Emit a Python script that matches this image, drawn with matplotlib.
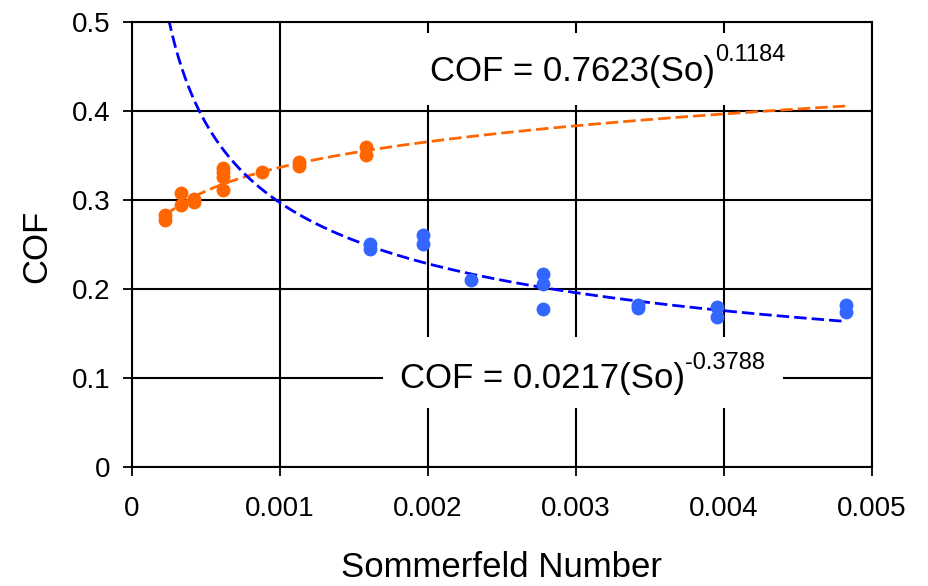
import numpy as np
import matplotlib
matplotlib.use("Agg")
import matplotlib.pyplot as plt
from matplotlib.patches import Rectangle

plt.rcParams["font.family"] = ["Liberation Sans", "DejaVu Sans"]

# Measured friction coefficients vs Sommerfeld number
orange_x = [0.000225, 0.000225, 0.000331, 0.000331, 0.000423, 0.000423,
            0.000619, 0.000619, 0.000619, 0.000619, 0.000883, 0.00113,
            0.00113, 0.001583, 0.001583]
orange_y = [0.283, 0.278, 0.3075, 0.294, 0.301, 0.298,
            0.336, 0.331, 0.326, 0.311, 0.331, 0.342,
            0.338, 0.359, 0.350]

blue_x = [0.00161, 0.00161, 0.00197, 0.00197, 0.00229, 0.00278, 0.00278,
          0.00278, 0.003423, 0.003423, 0.003953, 0.003953, 0.004827, 0.004827]
blue_y = [0.250, 0.245, 0.261, 0.251, 0.210, 0.217, 0.206,
          0.178, 0.182, 0.179, 0.1796, 0.169, 0.182, 0.1746]

# Power-law trend lines: COF = a * So^b
orange_a, orange_b = 0.7623, 0.1184
blue_a, blue_b = 0.0217, -0.3788

x_ticks = [0, 0.001, 0.002, 0.003, 0.004, 0.005]
x_ticklabels = ["0", "0.001", "0.002", "0.003", "0.004", "0.005"]
y_ticks = [0, 0.1, 0.2, 0.3, 0.4, 0.5]
y_ticklabels = ["0", "0.1", "0.2", "0.3", "0.4", "0.5"]

ORANGE = "#FF6600"
BLUE_PT = "#3366FF"
BLUE_LN = "#0000FF"

fig = plt.figure(figsize=(9.29, 5.86), dpi=100)
ax = fig.add_axes([0.1418, 0.2026, 0.7965, 0.7604])
ax.set_xlim(0, 0.005)
ax.set_ylim(0, 0.5)

ax.set_xticks(x_ticks)
ax.set_xticklabels(x_ticklabels)
ax.set_yticks(y_ticks)
ax.set_yticklabels(y_ticklabels)

ax.set_axisbelow(True)
ax.grid(True, color="black", linewidth=1.5)
for sp in ax.spines.values():
    sp.set_color("black")
    sp.set_linewidth(1.5)
ax.tick_params(direction="out", length=6.5, width=1.3, labelsize=20, colors="black")
ax.tick_params(axis="x", pad=14)
ax.tick_params(axis="y", pad=9)

# white panels behind the equations
ax.add_patch(Rectangle((0.3396, 0.814), 0.615, 0.1606, transform=ax.transAxes,
                       facecolor="white", edgecolor="none", zorder=1.5))
ax.add_patch(Rectangle((0.3396, 0.133), 0.5404, 0.1594, transform=ax.transAxes,
                       facecolor="white", edgecolor="none", zorder=1.5))

# trend lines
x_fit = np.linspace(min(orange_x), max(blue_x), 400)
ax.plot(x_fit, orange_a * x_fit ** orange_b, color=ORANGE, lw=2.0,
        dashes=(4.5, 1.8), zorder=2)
ax.plot(x_fit, blue_a * x_fit ** blue_b, color=BLUE_LN, lw=2.0,
        dashes=(4.5, 1.8), zorder=2)

# data points
ax.plot(orange_x, orange_y, "o", color=ORANGE, ms=10, mec="none", zorder=3)
ax.plot(blue_x, blue_y, "o", color=BLUE_PT, ms=10, mec="none", zorder=3)

# equations
t1 = ax.text(0.4031, 0.8676, "COF = 0.7623(So)", transform=ax.transAxes,
             fontsize=25, ha="left", va="baseline", zorder=4)
ax.annotate("0.1184", xy=(1, 1), xycoords=t1, xytext=(0, 7.6),
            textcoords="offset points", fontsize=17, ha="left", va="top", zorder=4)
t2 = ax.text(0.3626, 0.1773, "COF = 0.0217(So)", transform=ax.transAxes,
             fontsize=25, ha="left", va="baseline", zorder=4)
ax.annotate("-0.3788", xy=(1, 1), xycoords=t2, xytext=(0, 7.6),
            textcoords="offset points", fontsize=17, ha="left", va="top", zorder=4)

ax.set_xlabel("Sommerfeld Number", fontsize=25, va="baseline")
ax.xaxis.set_label_coords(0.5, -0.2454)
ax.set_ylabel("COF", fontsize=25, va="center")
ax.yaxis.set_label_coords(-0.129, 0.495)

fig.savefig("out.png", dpi=100, facecolor="white")
